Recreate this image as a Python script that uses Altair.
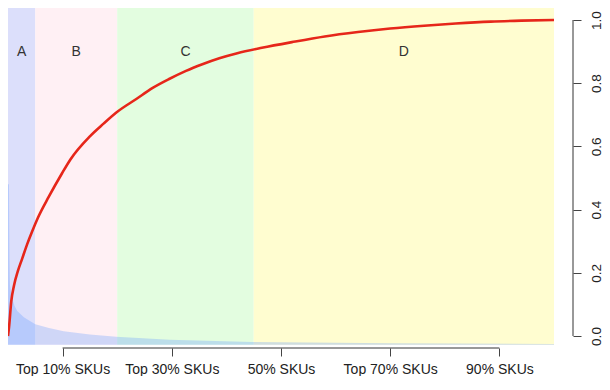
import altair as alt
import pandas as pd

# ---- data ----
band_names = ["A", "B", "C", "D"]
band_starts = [0.0, 0.05, 0.20, 0.45]
band_ends = [0.05, 0.20, 0.45, 1.0]
band_colors = ["#dcdffb", "#fff0f4", "#e3fde0", "#fffdd0"]

curve_x = [0, 0.002, 0.006, 0.011, 0.018, 0.026, 0.035, 0.044, 0.055, 0.0745,
           0.099, 0.114, 0.15, 0.175, 0.199, 0.235, 0.265, 0.296, 0.326, 0.356,
           0.387, 0.42, 0.465, 0.52, 0.58, 0.641, 0.70, 0.762, 0.82, 0.884, 0.94, 1.0]
curve_y = [0, 0.03, 0.11, 0.16, 0.205, 0.245, 0.29, 0.33, 0.375, 0.44,
           0.515, 0.558, 0.632, 0.672, 0.708, 0.75, 0.785, 0.814, 0.839, 0.86,
           0.879, 0.895, 0.912, 0.93, 0.948, 0.962, 0.973, 0.982, 0.989, 0.995, 0.998, 1.0]

share_x = [0, 0.0018, 0.0027, 0.0036, 0.0073, 0.012, 0.017, 0.029, 0.050, 0.075,
           0.102, 0.15, 0.198, 0.296, 0.447, 0.7, 1.0]
share_y = [0.48, 0.48, 0.245, 0.16, 0.12, 0.095, 0.079, 0.059, 0.037, 0.025,
           0.015, 0.005, -0.002, -0.012, -0.019, -0.023, -0.025]

tick_values = [0.1, 0.3, 0.5, 0.7, 0.9]
tick_labels = ["Top 10% SKUs", "Top 30% SKUs", "50% SKUs", "Top 70% SKUs", "90% SKUs"]
y_ticks = [0.0, 0.2, 0.4, 0.6, 0.8, 1.0]

Y_LO, Y_HI = -0.038, 1.038
BASE = -0.028
W, H = 546, 340
OFF = 19
FONT = "Liberation Sans"

bands = pd.DataFrame({
    "name": band_names, "start": band_starts, "end": band_ends,
    "lo": [BASE] * 4, "hi": [Y_HI] * 4,
    "mid": [(s + e) / 2 for s, e in zip(band_starts, band_ends)],
    "ty": [0.9] * 4,
})
curve = pd.DataFrame({"x": curve_x, "y": curve_y})
share = pd.DataFrame({"x": share_x, "y": share_y, "base": [BASE] * len(share_x)})
axis_df = pd.DataFrame({"a": [tick_values[0]], "b": [tick_values[-1]], "y0": [0.0], "y1": [1.0]})

xs = alt.Scale(domain=[0, 1], nice=False, zero=False)
ys = alt.Scale(domain=[Y_LO, Y_HI], nice=False, zero=False)

label_expr = "''"
for v, t in reversed(list(zip(tick_values, tick_labels))):
    label_expr = f"round(datum.value*100)=={round(v*100)} ? '{t}' : ({label_expr})"

x_axis = alt.Axis(values=tick_values, labelExpr=label_expr, domain=False, grid=False,
                  tickSize=8, tickColor="#444", labelFontSize=14, labelFont=FONT,
                  labelColor="#222", labelPadding=6, labelFlush=False,
                  labelOverlap=False, title=None)
y_axis = alt.Axis(orient="right", values=y_ticks, format=".1f", domain=False, grid=False,
                  offset=OFF, tickSize=8, tickColor="#444", labelAngle=270,
                  labelAlign="center", labelBaseline="top", labelPadding=8,
                  labelFontSize=13.5, labelFont=FONT, labelColor="#222", title=None)


def X(field):
    return alt.X(field, scale=xs, axis=x_axis)


def Y(field):
    return alt.Y(field, scale=ys, axis=y_axis)


band_layer = alt.Chart(bands).mark_rect().encode(
    x=X("start:Q"), x2="end:Q",
    y=Y("lo:Q"), y2="hi:Q",
    color=alt.Color("name:N", scale=alt.Scale(domain=band_names, range=band_colors), legend=None),
)

area_layer = alt.Chart(share).mark_area(color="#6ea0ff", opacity=0.33).encode(
    x=X("x:Q"), y=Y("y:Q"), y2="base:Q",
)

line_layer = alt.Chart(curve).mark_line(color="#e6261a", strokeWidth=2.6,
                                        interpolate="monotone").encode(
    x=X("x:Q"), y=Y("y:Q"),
)

text_layer = alt.Chart(bands).mark_text(fontSize=14, font=FONT, color="#333",
                                        baseline="middle").encode(
    x=X("mid:Q"), y=Y("ty:Q"), text="name:N",
)

xline = alt.Chart(axis_df).mark_rule(color="#333", strokeWidth=1).encode(
    x=X("a:Q"), x2="b:Q", y=alt.value(H),
)

yline = alt.Chart(axis_df).mark_rule(color="#333", strokeWidth=1).encode(
    x=alt.value(W + OFF), y=Y("y0:Q"), y2="y1:Q",
)

chart = alt.layer(band_layer, area_layer, line_layer, text_layer, xline, yline).properties(
    width=W, height=H,
    autosize=alt.AutoSizeParams(type="none"),
    padding={"left": 0, "top": 0, "right": 48, "bottom": 28},
    background="white",
).configure_view(stroke=None)

chart.save("out.html", embed_options={"renderer": "svg", "actions": False})
